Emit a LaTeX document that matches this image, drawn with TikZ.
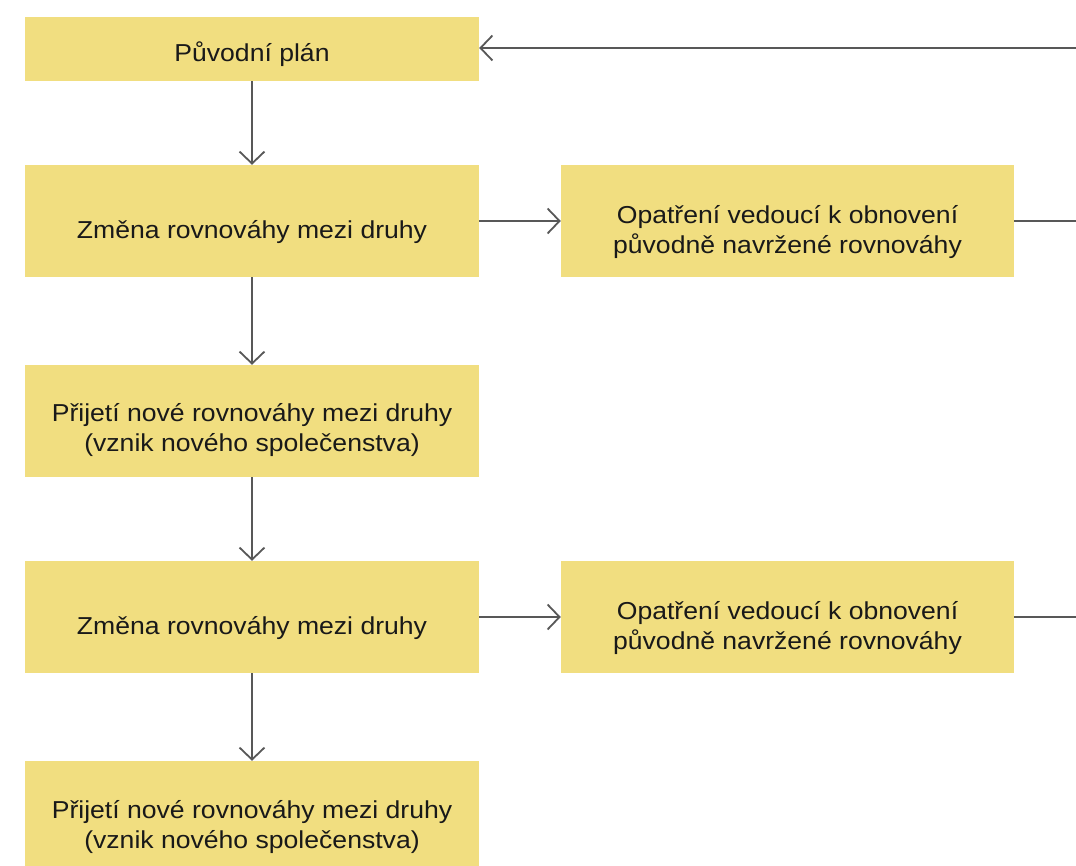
\documentclass[tikz,border=0pt]{standalone}
\usepackage{fontspec}
\setmainfont{Liberation Sans}[FakeStretch=1.085]
\usepackage{tikz}
\usetikzlibrary{arrows.meta}
\definecolor{boxfill}{HTML}{F1DE80}
\definecolor{linecol}{HTML}{585858}

\begin{document}
\begin{tikzpicture}[>={Straight Barb[length=12bp,width=25bp,line width=1.8bp]},line join=bevel,
  stepbox/.style={fill=boxfill,draw=none,rectangle,minimum width=454bp,align=center,
    text=black!90,font=\fontsize{24.5bp}{30bp}\selectfont,inner sep=0pt,text depth=0pt},
  onebox/.style={stepbox,minimum height=112bp,text height=36bp},
  twobox/.style={stepbox,minimum height=112bp,text height=62bp},
  link/.style={draw=linecol,line width=2bp}]
%%
  \clip (0bp,0bp) rectangle (1076bp,866bp);
  \useasboundingbox (0bp,0bp) rectangle (1076bp,866bp);
  \node (plan) at (252bp,817bp) [stepbox,minimum height=64bp,text height=26bp] {Původní plán};
  \node (zmena1) at (252bp,645bp) [onebox] {Změna rovnováhy mezi druhy};
  \node (prijeti1) at (252bp,445bp) [twobox] {Přijetí nové rovnováhy mezi druhy\\(vznik nového společenstva)};
  \node (zmena2) at (252bp,249bp) [onebox] {Změna rovnováhy mezi druhy};
  \node (prijeti2) at (252bp,49bp) [twobox] {Přijetí nové rovnováhy mezi druhy\\(vznik nového společenstva)};
  \node (opat1) at (787.5bp,645bp) [twobox,minimum width=453bp,text height=66bp] {Opatření vedoucí k obnovení\\původně navržené rovnováhy};
  \node (opat2) at (787.5bp,249bp) [twobox,minimum width=453bp,text height=66bp] {Opatření vedoucí k obnovení\\původně navržené rovnováhy};
  \coordinate (auxtop) at (1076bp,818bp);
  \coordinate (aux1) at (1076bp,645bp);
  \coordinate (aux2) at (1076bp,249bp);
  \draw [->,link] (plan) -- (zmena1);
  \draw [->,link] (zmena1) -- (prijeti1);
  \draw [->,link] (prijeti1) -- (zmena2);
  \draw [->,link] (zmena2) -- (prijeti2);
  \draw [->,link] (zmena1) -- (opat1);
  \draw [->,link] (zmena2) -- (opat2);
  \draw [link] (opat1) -- (aux1);
  \draw [link] (opat2) -- (aux2);
  \draw [->,link] (auxtop) -- (plan.east |- auxtop);
%
\end{tikzpicture}
\end{document}
